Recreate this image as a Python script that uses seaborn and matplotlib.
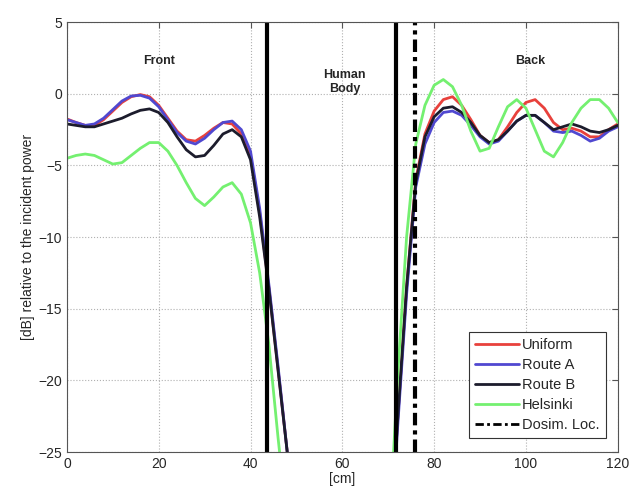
import matplotlib
matplotlib.use("Agg")
import matplotlib.pyplot as plt
import numpy as np
import pandas as pd
import seaborn as sns
from matplotlib.lines import Line2D

# distance along the line [cm]
x_front = [0, 2, 4, 6, 8, 10, 12, 14, 16, 18, 20, 22, 24, 26, 28, 30, 32, 34, 36, 38, 40, 42, 44, 46, 48]
x_back = [70, 72, 74, 76, 78, 80, 82, 84, 86, 88, 90, 92, 94, 96, 98, 100, 102, 104, 106, 108, 110, 112, 114, 116, 118, 120]

uniform_front = [-1.75, -2.0, -2.2, -2.2, -1.8, -1.2, -0.6, -0.2, -0.05, -0.2, -0.8, -1.7, -2.6, -3.2, -3.3,
                 -2.9, -2.4, -2.0, -2.1, -2.8, -4.3, -8.3, -13.5, -19.2, -25.0]
route_a_front = [-1.8, -2.0, -2.2, -2.1, -1.7, -1.1, -0.5, -0.15, -0.1, -0.3, -0.9, -1.8, -2.7, -3.3, -3.5,
                 -3.1, -2.5, -2.0, -1.9, -2.5, -4.0, -8.0, -13.3, -19.0, -25.0]
route_b_front = [-2.1, -2.2, -2.3, -2.3, -2.1, -1.9, -1.7, -1.4, -1.15, -1.05, -1.3, -2.0, -3.0, -3.9, -4.4,
                 -4.3, -3.6, -2.8, -2.5, -3.0, -4.6, -8.6, -13.6, -19.3, -25.0]
helsinki_front = [-4.5, -4.3, -4.2, -4.3, -4.6, -4.9, -4.8, -4.3, -3.8, -3.4, -3.4, -4.0, -5.0, -6.2, -7.3,
                  -7.8, -7.2, -6.5, -6.2, -7.0, -9.0, -12.5, -17.5, -24.0, -30.0]

uniform_back = [-34, -23, -13.5, -6.0, -2.8, -1.2, -0.4, -0.2, -0.8, -1.8, -2.9, -3.4, -3.2, -2.3, -1.3,
                -0.6, -0.4, -1.0, -2.0, -2.5, -2.4, -2.6, -3.0, -3.0, -2.5, -2.1]
route_a_back = [-34, -23.5, -14, -6.5, -3.5, -2.0, -1.3, -1.2, -1.5, -2.2, -3.0, -3.5, -3.3, -2.6, -1.9,
                -1.5, -1.5, -2.0, -2.6, -2.7, -2.6, -2.9, -3.3, -3.1, -2.6, -2.3]
route_b_back = [-34, -23, -13.5, -6.2, -3.0, -1.6, -1.0, -0.9, -1.3, -2.0, -2.9, -3.4, -3.2, -2.6, -1.9,
                -1.5, -1.5, -2.0, -2.5, -2.3, -2.1, -2.3, -2.6, -2.7, -2.5, -2.2]
helsinki_back = [-32, -20, -10, -3.5, -0.8, 0.6, 1.0, 0.5, -0.8, -2.6, -4.0, -3.8, -2.3, -0.9, -0.4,
                 -1.0, -2.5, -4.0, -4.4, -3.4, -2.0, -1.0, -0.4, -0.4, -1.0, -2.0]

series_names = ["Uniform", "Route A", "Route B", "Helsinki"]
series_colors = ["#e8413c", "#5048d0", "#1c1c2c", "#74f070"]

body_edges = [43.7, 71.7]
dosim_loc = 75.9

# long table, front and back parts drawn as separate units
rows = []
fronts = [uniform_front, route_a_front, route_b_front, helsinki_front]
backs = [uniform_back, route_a_back, route_b_back, helsinki_back]
for name, f, b in zip(series_names, fronts, backs):
    for xv, yv in zip(x_front, f):
        rows.append((name, "front", xv, yv))
    for xv, yv in zip(x_back, b):
        rows.append((name, "back", xv, yv))
df = pd.DataFrame(rows, columns=["series", "part", "cm", "dB"])

sns.set_style("white")
plt.rcParams['font.family'] = ['Liberation Sans', 'DejaVu Sans']

fig = plt.figure(figsize=(6.31, 4.94), dpi=100)
ax = fig.add_axes([0.106, 0.085, 0.873, 0.870])

sns.lineplot(data=df, x="cm", y="dB", hue="series", units="part", estimator=None,
             hue_order=series_names, palette=series_colors, linewidth=2, sort=False, ax=ax, legend=False)

for xe in body_edges:
    ax.axvline(xe, color="black", linewidth=3)
ax.axvline(dosim_loc, color="black", linewidth=3, linestyle=(0, (3, 1.2, 1, 1.2)))

ax.set_xlim(0, 120)
ax.set_ylim(-25, 5)
ax.set_xticks([0, 20, 40, 60, 80, 100, 120])
ax.set_yticks([-25, -20, -15, -10, -5, 0, 5])
ax.grid(True, linestyle=":", color="#b0b0b0", linewidth=0.8)
ax.tick_params(direction="in", top=True, right=True, labelsize=10, length=4, color="#555555")
for sp in ax.spines.values():
    sp.set_color("#555555")
    sp.set_linewidth(0.8)

ax.set_xlabel("[cm]", fontsize=10, labelpad=1)
ax.set_ylabel("[dB] relative to the incident power", fontsize=10, labelpad=2)

ax.text(20, 2.3, "Front", ha="center", va="center", fontsize=9, fontweight="bold")
ax.text(60.5, 0.8, "Human\nBody", ha="center", va="center", fontsize=9, fontweight="bold")
ax.text(101, 2.3, "Back", ha="center", va="center", fontsize=9, fontweight="bold")

handles = [Line2D([], [], color=c, linewidth=2) for c in series_colors]
handles.append(Line2D([], [], color="black", linewidth=2, linestyle=(0, (3, 1.2, 1, 1.2))))
leg = ax.legend(handles, series_names + ["Dosim. Loc."], loc="lower right", fontsize=10.5,
                frameon=True, fancybox=False, framealpha=1, edgecolor="#333333",
                handlelength=3.0, handletextpad=0.2, borderpad=0.45, labelspacing=0.4,
                bbox_to_anchor=(0.992, 0.015))
leg.get_frame().set_linewidth(0.8)

fig.savefig("out.png", dpi=100, facecolor="white")
